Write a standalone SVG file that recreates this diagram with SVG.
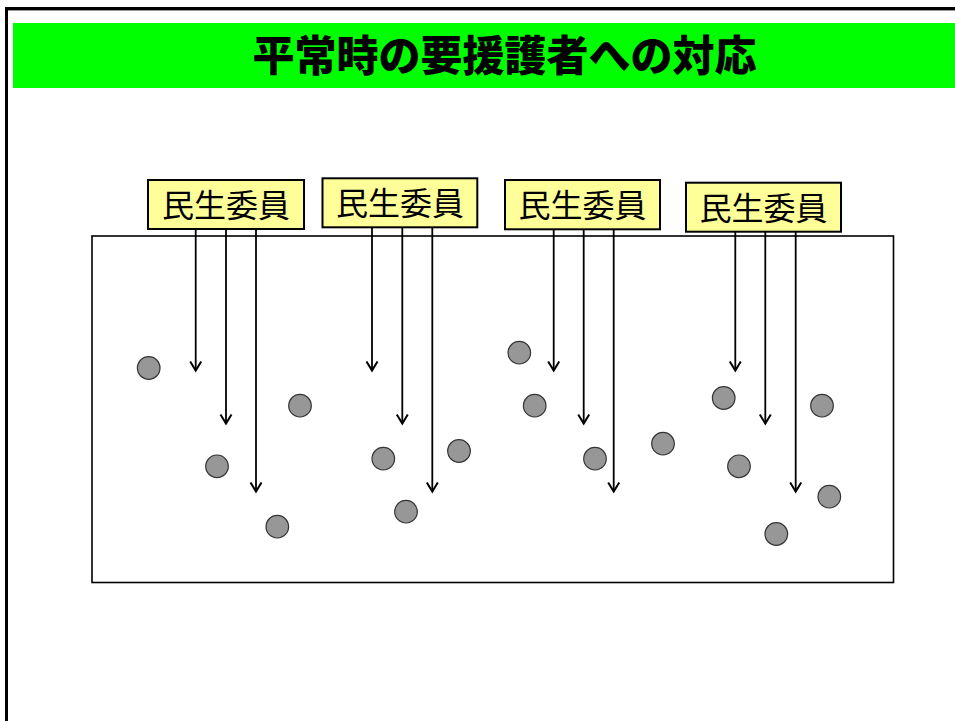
<svg xmlns="http://www.w3.org/2000/svg" width="955" height="721" viewBox="0 0 955 721">
<defs>
<style>
.lbl rect{fill:#FFFF99;stroke:#000;stroke-width:2}
.lbl text{font-family:"Noto Sans CJK JP","Noto Sans",sans-serif;font-size:32px;fill:#000;text-anchor:middle}
.conn line{stroke:#000;stroke-width:1.8;fill:none}
.p{fill:#979797;stroke:#333;stroke-width:1.2}
</style>
<marker id="ah" markerUnits="userSpaceOnUse" markerWidth="16" markerHeight="16" viewBox="-12 -8 16 16" refX="0" refY="0" orient="auto" overflow="visible">
<path d="M-9,-5.5 L0,0 L-9,5.5" fill="none" stroke="#000" stroke-width="2"/>
</marker>
</defs>
<rect width="955" height="721" fill="#fff"/>
<g id="frame">
<rect x="6.5" y="8.5" width="1000" height="800" fill="none" stroke="#000" stroke-width="3"/>
<line x1="8" y1="10.5" x2="955" y2="10.5" stroke="#999" stroke-width="1"/>
</g>
<g id="title">
<rect x="13" y="23" width="942" height="65" fill="#00FF00"/>
<text x="504.5" y="71" font-family="'Noto Sans CJK JP','Noto Sans',sans-serif" font-size="42" font-weight="900" text-anchor="middle" fill="#000">平常時の要援護者への対応</text>
</g>
<g id="area">
<rect x="92" y="236" width="801.5" height="346.5" fill="none" stroke="#000" stroke-width="1.6"/>
</g>
<g id="connectors" class="conn">
<line x1="195.7" y1="229" x2="195.7" y2="370.5" marker-end="url(#ah)"/>
<line x1="226" y1="229" x2="226" y2="423.5" marker-end="url(#ah)"/>
<line x1="256" y1="229" x2="256" y2="491.5" marker-end="url(#ah)"/>
<line x1="372" y1="227" x2="372" y2="370.5" marker-end="url(#ah)"/>
<line x1="402.3" y1="227" x2="402.3" y2="423.5" marker-end="url(#ah)"/>
<line x1="432.3" y1="227" x2="432.3" y2="491.5" marker-end="url(#ah)"/>
<line x1="553.7" y1="229" x2="553.7" y2="370.5" marker-end="url(#ah)"/>
<line x1="583.7" y1="229" x2="583.7" y2="423.5" marker-end="url(#ah)"/>
<line x1="613.7" y1="229" x2="613.7" y2="491.5" marker-end="url(#ah)"/>
<line x1="735.3" y1="231.5" x2="735.3" y2="370.5" marker-end="url(#ah)"/>
<line x1="765.3" y1="231.5" x2="765.3" y2="423.5" marker-end="url(#ah)"/>
<line x1="795.7" y1="231.5" x2="795.7" y2="491.5" marker-end="url(#ah)"/>
</g>
<g id="label1" class="lbl"><rect x="148" y="180" width="156" height="49"/><text x="226" y="217">民生委員</text></g>
<g id="label2" class="lbl"><rect x="322.5" y="178.3" width="154.8" height="49"/><text x="400" y="215.3">民生委員</text></g>
<g id="label3" class="lbl"><rect x="505" y="180" width="155" height="49.3"/><text x="582.5" y="217">民生委員</text></g>
<g id="label4" class="lbl"><rect x="686" y="182.7" width="155" height="49"/><text x="763.5" y="219.7">民生委員</text></g>
<g id="persons">
<circle id="p1" class="p" cx="148.7" cy="368" r="11.3"/>
<circle id="p2" class="p" cx="300" cy="405.7" r="11.3"/>
<circle id="p3" class="p" cx="217" cy="466.3" r="11.3"/>
<circle id="p4" class="p" cx="277.3" cy="526.7" r="11.3"/>
<circle id="p5" class="p" cx="383.3" cy="458.7" r="11.3"/>
<circle id="p6" class="p" cx="459" cy="451" r="11.3"/>
<circle id="p7" class="p" cx="406" cy="511.7" r="11.3"/>
<circle id="p8" class="p" cx="519.3" cy="352.7" r="11.3"/>
<circle id="p9" class="p" cx="534.7" cy="405.7" r="11.3"/>
<circle id="p10" class="p" cx="595" cy="458.7" r="11.3"/>
<circle id="p11" class="p" cx="663" cy="443.7" r="11.3"/>
<circle id="p12" class="p" cx="723.7" cy="398" r="11.3"/>
<circle id="p13" class="p" cx="822" cy="405.7" r="11.3"/>
<circle id="p14" class="p" cx="739" cy="466.3" r="11.3"/>
<circle id="p15" class="p" cx="829.3" cy="496.7" r="11.3"/>
<circle id="p16" class="p" cx="776.3" cy="534" r="11.3"/>
</g>
</svg>
